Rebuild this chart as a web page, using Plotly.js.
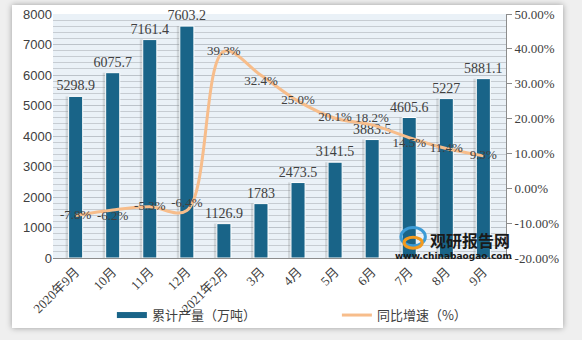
<!DOCTYPE html>
<html><head><meta charset="utf-8">
<script src="https://cdn.plot.ly/plotly-3.0.1.min.js"></script>
<style>
html,body{margin:0;padding:0;background:#efefef;width:582px;height:340px;overflow:hidden;}
#chart{position:absolute;left:12px;top:5px;width:551px;height:323px;background:#fff;box-shadow:0 0 6px rgba(0,0,0,0.35);}
</style></head><body>
<div id="chart"></div>
<script>
const categories = ["2020年9月","10月","11月","12月","2021年2月","3月","4月","5月","6月","7月","8月","9月"];
const output = [5298.9,6075.7,7161.4,7603.2,1126.9,1783,2473.5,3141.5,3883.5,4605.6,5227,5881.1];
const growth = [-7.8,-6.2,-5.3,-6.4,39.3,32.4,25.0,20.1,18.2,14.5,11.4,9.3];
const growthLabels = ["-7.8%","-6.2%","-5.3%","-6.4%","39.3%","32.4%","25.0%","20.1%","18.2%","14.5%","11.4%","9.3%"];
const leftTicks = [0,1000,2000,3000,4000,5000,6000,7000,8000];
const rightTicks = [-20,-10,0,10,20,30,40,50];
const rightTickText = ["-20.00%","-10.00%","0.00%","10.00%","20.00%","30.00%","40.00%","50.00%"];
const seriesNames = ["累计产量（万吨）","同比增速（%）"];

const barColor = "#196488";
const lineColor = "#F7BD8B";
const serif = "Liberation Serif, Noto Sans CJK SC, serif";
const txt = "#404040";
const labelPos = ["middle center","bottom center","middle center","top center","middle center","bottom center",
  "middle center","middle center","top center","bottom center","middle center","middle center"];

const traces = [
  { type:"bar", x:categories, y:output, width:0.36, offset:-0.27,
    marker:{color:"rgba(120,120,120,0.22)"}, showlegend:false, hoverinfo:"skip" },
  { type:"bar", x:categories, y:output, width:0.38, name:seriesNames[0], showlegend:false,
    marker:{color:barColor, line:{color:"#ffffff", width:1}},
    text:output.map(String), textposition:"outside", cliponaxis:false, constraintext:"none",
    textfont:{family:serif, size:14, color:txt} },
  { type:"scatter", mode:"lines", x:[null], y:[null], name:seriesNames[0],
    line:{color:barColor, width:6}, hoverinfo:"skip" },
  { type:"scatter", mode:"lines+text", x:categories, y:growth, yaxis:"y2", name:seriesNames[1],
    line:{color:lineColor, width:3, shape:"spline", smoothing:1},
    text:growthLabels, textposition:labelPos, cliponaxis:false,
    textfont:{family:serif, size:13, color:txt} }
];

const layout = {
  width:551, height:323,
  margin:{l:41, r:57, t:9, b:70, autoexpand:false},
  paper_bgcolor:"rgba(0,0,0,0)", plot_bgcolor:"#EAF1F7",
  barmode:"overlay",
  showlegend:true,
  legend:{orientation:"h", x:0.13, xanchor:"left", y:-0.234, yanchor:"middle",
    entrywidth:180, font:{family:"Noto Sans CJK SC", size:13, color:txt}, traceorder:"normal"},
  xaxis:{type:"category", showline:true, linecolor:"#8c8c8c", linewidth:1, ticks:"",
    tickangle:-45, tickfont:{family:serif, size:13, color:txt}, showgrid:false, fixedrange:true},
  yaxis:{range:[0,8000], tickvals:leftTicks, showgrid:true, gridcolor:"#BCC3CA", gridwidth:1,
    minor:{dtick:200, showgrid:true, gridcolor:"#C6CCD2", gridwidth:1},
    zeroline:false, showline:false, ticks:"",
    tickfont:{family:"Liberation Sans, Arial, sans-serif", size:13, color:txt}},
  yaxis2:{overlaying:"y", side:"right", range:[-20,50], tickvals:rightTicks, ticktext:rightTickText,
    showgrid:false, zeroline:false, showline:true, linecolor:"#8c8c8c", ticks:"outside", ticklen:5,
    tickcolor:"#8c8c8c", tickfont:{family:serif, size:13, color:txt}},
  annotations:[
    {xref:"paper", yref:"paper", x:0.92, y:0.075, xanchor:"center", yanchor:"middle",
     text:"<b>观研报告网</b>", showarrow:false,
     font:{family:"Noto Sans CJK SC", size:16, color:"#1a1a1a"}},
    {xref:"paper", yref:"paper", x:0.885, y:0.008, xanchor:"center", yanchor:"middle",
     text:"<b>www.chinabaogao.com</b>", showarrow:false,
     font:{family:"DejaVu Sans", size:9, color:"#1a1a1a"}}
  ],
  shapes:[
    {type:"circle", xref:"paper", yref:"paper", x0:0.768, x1:0.822, y0:0.05, y1:0.125,
     line:{color:"#3B9BD6", width:3}},
    {type:"circle", xref:"paper", yref:"paper", x0:0.775, x1:0.815, y0:0.04, y1:0.085,
     line:{color:"#F39A1E", width:3}}
  ]
};
Plotly.newPlot("chart", traces, layout, {displayModeBar:false, staticPlot:true});
</script></body></html>
